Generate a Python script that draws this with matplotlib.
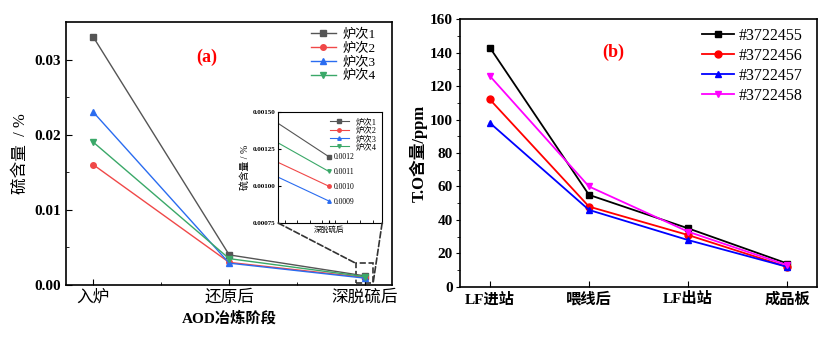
import numpy as np
import matplotlib.pyplot as plt
from matplotlib.patches import Rectangle, ConnectionPatch

# ---------------- data
stages_a = ["入炉", "还原后", "深脱硫后"]
heats = ["炉次1", "炉次2", "炉次3", "炉次4"]
s1 = [0.033, 0.0040, 0.0012]
s2 = [0.016, 0.0030, 0.0010]
s3 = [0.023, 0.0029, 0.0009]
s4 = [0.019, 0.0035, 0.0011]
inset_labels = ["0.0012", "0.0010", "0.0009", "0.0011"]

stages_b = ["LF进站", "喂线后", "LF出站", "成品板"]
heats_b = ["#3722455", "#3722456", "#3722457", "#3722458"]
o1 = [143, 55, 35, 14]
o2 = [112, 48, 31, 12]
o3 = [98, 46, 28, 12]
o4 = [126, 60, 33, 13]

fam = ["Liberation Serif", "Noto Sans CJK SC"]
plt.rcParams['font.family'] = fam
plt.rcParams['axes.unicode_minus'] = False

fig = plt.figure(figsize=(8.38, 3.4), dpi=100)

# ---------------- panel (a)
ax = fig.add_axes([0.079, 0.162, 0.389, 0.773])
cols_a = ["#555555", "#f04848", "#2a6cf0", "#3aa868"]
marks = ["s", "o", "^", "v"]
xa = np.arange(len(stages_a))
for d, c, m, lab in zip([s1, s2, s3, s4], cols_a, marks, heats):
    ax.plot(xa, d, color=c, marker=m, ms=4, lw=1, label=lab)
ax.set_xlim(-0.2, 2.2)
ax.set_ylim(0, 0.035)
ax.set_xticks(xa)
ax.set_xticklabels(stages_a, fontsize=12)
ax.set_xticks([0.5, 1.5], minor=True)
ax.set_yticks([0, 0.01, 0.02, 0.03])
ax.set_yticks([0.005, 0.015, 0.025], minor=True)
ax.set_yticklabels(["0.00", "0.01", "0.02", "0.03"], fontsize=11, fontweight="bold")
ax.tick_params(direction="in", which="both")
ax.tick_params(length=4, which="major")
ax.tick_params(length=2, which="minor")
ax.set_ylabel("硫含量  / %", fontsize=12, labelpad=4)
ax.set_xlabel("AOD冶炼阶段", fontsize=11, fontweight="bold", labelpad=4)
ax.text(0.43, 0.85, "(a)", transform=ax.transAxes, color="red",
        fontsize=13, fontweight="bold", ha="center")
ax.legend(loc="upper right", frameon=False, fontsize=9.5, handlelength=1.9,
          handletextpad=0.5, labelspacing=0.12, bbox_to_anchor=(0.985, 1.02))
for sp in ax.spines.values():
    sp.set_linewidth(1.2)

# inset
axi = fig.add_axes([0.332, 0.344, 0.124, 0.326])
for d, c, m, lab in zip([s1, s2, s3, s4], cols_a, marks, heats):
    axi.plot(xa, d, color=c, marker=m, ms=2.5, lw=0.8, label=lab)
for d, t in zip([s1, s2, s3, s4], inset_labels):
    axi.annotate(t, (xa[2], d[2]), xytext=(4, -2), textcoords="offset points",
                 fontsize=5.5)
axi.set_xlim(1.92, 2.085)
axi.set_ylim(0.00075, 0.0015)
axi.set_xticks([2])
axi.set_xticklabels(["深脱硫后"], fontsize=5.5)
axi.set_xticks(np.arange(1.93, 2.09, 0.02), minor=True)
axi.set_yticks([0.00075, 0.001, 0.00125, 0.0015])
axi.set_yticklabels(["0.00075", "0.00100", "0.00125", "0.00150"], fontsize=5,
                    fontweight="bold")
axi.tick_params(direction="in", which="both", length=2, pad=2)
axi.set_ylabel("硫含量 / %", fontsize=7, labelpad=2)
axi.legend(loc="upper right", frameon=False, fontsize=6, handlelength=2.2,
           labelspacing=0.05, borderaxespad=0.3)

# zoom box + connectors
ax.add_patch(Rectangle((1.93, 0.0003), 0.13, 0.0026, fill=False, ls="--",
                       lw=1.2, color="#333333"))
for pa, pb in [((0, 0), (1.93, 0.0029)), ((1, 0), (2.06, 0.0003))]:
    cp = ConnectionPatch(xyA=pa, coordsA=axi.transAxes, xyB=pb, coordsB=ax.transData,
                         ls="--", lw=1.2, color="#333333")
    fig.add_artist(cp)

# ---------------- panel (b)
bx = fig.add_axes([0.549, 0.156, 0.426, 0.788])
cols_b = ["black", "red", "blue", "magenta"]
xb = np.arange(len(stages_b))
for d, c, m, lab in zip([o1, o2, o3, o4], cols_b, marks, heats_b):
    bx.plot(xb, d, color=c, marker=m, ms=5, lw=1.3, label=lab)
bx.set_xlim(-0.3, 3.3)
bx.set_ylim(0, 160)
bx.set_xticks(xb)
bx.set_xticklabels(stages_b, fontsize=11, fontweight="bold")
bx.set_yticks(np.arange(0, 161, 20))
bx.set_yticks(np.arange(10, 160, 20), minor=True)
for t in bx.get_yticklabels():
    t.set_fontsize(11)
    t.set_fontweight("bold")
bx.tick_params(axis="x", direction="in", length=4)
bx.tick_params(axis="y", direction="out", length=3, pad=2)
bx.tick_params(axis="y", which="minor", direction="out", length=2)
bx.set_ylabel("T.O含量/ppm", fontsize=12, fontweight="bold", labelpad=2)
bx.text(0.43, 0.86, "(b)", transform=bx.transAxes, color="red",
        fontsize=13, fontweight="bold", ha="center")
bx.legend(loc="upper right", frameon=False, fontsize=11.5, handlelength=2.0,
          handletextpad=0.3, labelspacing=0.25, bbox_to_anchor=(1.0, 1.02))
for sp in bx.spines.values():
    sp.set_linewidth(1.2)

plt.savefig("out.png", dpi=100)
